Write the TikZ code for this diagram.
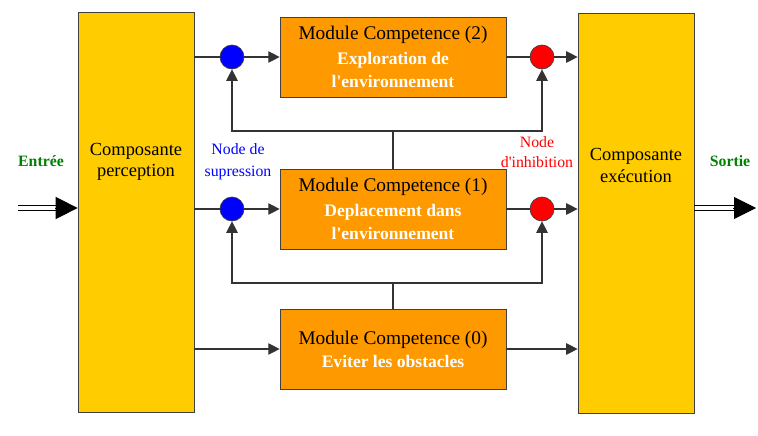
\documentclass[tikz,border=0pt]{standalone}
\usepackage{fontspec}
\setmainfont{Liberation Serif}
\usetikzlibrary{arrows.meta,calc}
\definecolor{jaune}{HTML}{FFCC00}
\definecolor{orangebox}{HTML}{FF9900}
\definecolor{vert}{HTML}{008000}
\newcommand{\soustitre}[1]{{\color{white}\bfseries\fontsize{10}{12}\selectfont #1}}
\begin{document}
\begin{tikzpicture}[x=0.02cm, y=-0.02cm,
  composante/.style={draw=black!75, fill=jaune, minimum width=2.32cm, minimum height=8cm, inner sep=0pt},
  module/.style={draw=black!75, fill=orangebox, minimum width=4.52cm, minimum height=1.6cm, align=center, inner sep=0pt, font=\fontsize{11}{13}\selectfont},
  noeud/.style={circle, draw=black!75, minimum size=0.48cm, inner sep=0pt},
  lien/.style={draw=black!80, line width=0.6pt},
  fleche/.style={lien, -{Triangle[length=6.5pt, width=6.5pt]}},
  grossetete/.style={draw=black, line width=0.5pt, -{Triangle[length=12.5pt, width=12.5pt]}}]
\useasboundingbox (0,0) rectangle (758,436);

% Composantes
\node[composante, label={[align=center, yshift=1cm, font=\fontsize{10.5}{12}\selectfont]center:Composante\\perception}] (perception) at (136,212) {};
\node[composante, label={[align=center, yshift=0.96cm, font=\fontsize{10.5}{12.5}\selectfont]center:Composante\\exécution}] (execution) at (636,213) {};

% Modules
\node[module] (module2) at (393,57) {Module Competence (2)\\[1pt] \soustitre{Exploration de}\\ \soustitre{l\textquotesingle environnement}};
\node[module] (module1) at (393,209) {Module Competence (1)\\[1pt] \soustitre{Deplacement dans}\\ \soustitre{l\textquotesingle environnement}};
\node[module] (module0) at (393,349) {Module Competence (0)\\ \soustitre{Eviter les obstacles}};

% Suppression and inhibition nodes
\node[noeud, fill=blue] (sup2) at (232,57) {};
\node[noeud, fill=blue] (sup1) at (232,209) {};
\node[noeud, fill=red] (inh2) at (542,57) {};
\node[noeud, fill=red] (inh1) at (542,209) {};

% Labels
\node[vert, font=\bfseries\fontsize{9}{11}\selectfont] (entree) at (41,161) {Entrée};
\node[vert, font=\bfseries\fontsize{9}{11}\selectfont] (sortie) at (730,161) {Sortie};
\node[blue, align=center, font=\fontsize{9}{12.5}\selectfont] (labelsup) at (238,162) {Node de\\supression};
\node[red, align=center, font=\fontsize{9}{11.5}\selectfont] (labelinh) at (537,152) {Node\\d\textquotesingle inhibition};

% Entree / sortie (double lines)
\coordinate (entreefleche) at (18,208);
\coordinate (entreetete) at (55,208);
\coordinate (sortietete) at (733,208);
\coordinate (sortiefleche) at (756,208);
\foreach \d in {-2.5,2.5} {
  \draw[lien, black] ($(entreefleche)+(0,\d)$) -- ($(entreetete)+(1,\d)$);
  \draw[lien, black] ($(execution.east |- sortietete)+(0,\d)$) -- ($(sortietete)+(1,\d)$);
}
\draw[grossetete] (entreetete) -- (perception.west |- entreetete);
\draw[grossetete] (sortietete) -- (sortiefleche);

% Connections
\draw[lien] (perception.east |- sup2) -- (sup2);
\draw[fleche] (sup2) -- (module2);
\draw[lien] (module2) -- (inh2);
\draw[fleche] (inh2) -- (execution.west |- inh2);
\draw[lien] (perception.east |- sup1) -- (sup1);
\draw[fleche] (sup1) -- (module1);
\draw[lien] (module1) -- (inh1);
\draw[fleche] (inh1) -- (execution.west |- inh1);
\draw[fleche] (perception.east |- module0) -- (module0);
\draw[fleche] (module0) -- (execution.west |- module0);

% Feedback
\coordinate (j2) at (393,131);
\coordinate (j1) at (393,283);
\draw[lien] (module1.north) -- (j2);
\draw[fleche] (j2) -| (sup2.south);
\draw[fleche] (j2) -| (inh2.south);
\draw[lien] (module0.north) -- (j1);
\draw[fleche] (j1) -| (sup1.south);
\draw[fleche] (j1) -| (inh1.south);
\end{tikzpicture}
\end{document}
